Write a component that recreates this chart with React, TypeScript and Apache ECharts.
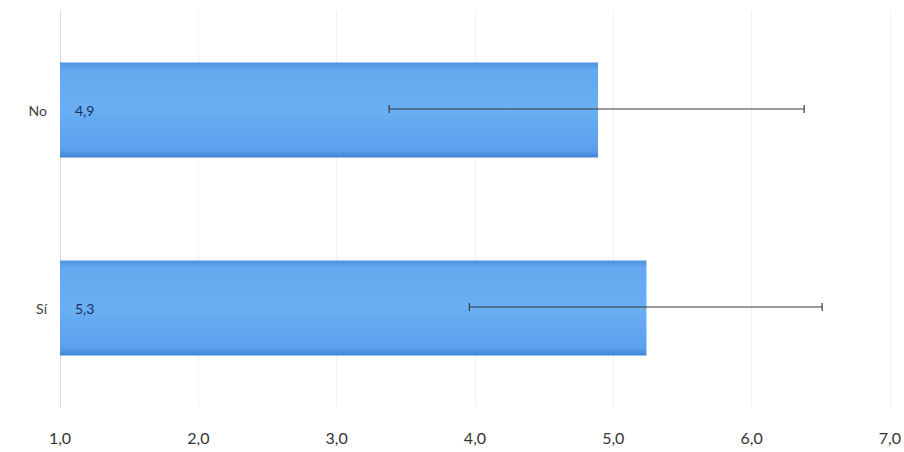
import React, { useEffect, useRef } from "react";
import * as echarts from "echarts";

const categories = ["Sí", "No"];
const barValues = [5.24, 4.89];
const barLabels = ["5,3", "4,9"];
const errLow = [3.96, 3.38];
const errHigh = [6.51, 6.38];
const xTicks = ["1,0", "2,0", "3,0", "4,0", "5,0", "6,0", "7,0"];

export default function App() {
  const ref = useRef<HTMLDivElement>(null);
  useEffect(() => {
    const chart = echarts.init(ref.current!, null, { renderer: "svg" });
    const font = "Lato, 'Open Sans', sans-serif";
    chart.setOption({
      animation: false,
      backgroundColor: "#ffffff",
      grid: { left: 60, right: 14, top: 11, bottom: 45, containLabel: false },
      xAxis: {
        type: "value",
        min: 1,
        max: 7,
        interval: 1,
        axisLine: { show: false },
        axisTick: { show: false },
        splitLine: { show: true, lineStyle: { color: "#f0f0f0", width: 1 } },
        axisLabel: {
          margin: 22,
          fontFamily: font,
          fontSize: 16,
          color: "#333",
          formatter: (v: number) => xTicks[Math.round(v) - 1] ?? "",
        },
      },
      yAxis: {
        type: "category",
        data: categories,
        axisLine: { show: true, lineStyle: { color: "#d9d9d9", width: 1 } },
        axisTick: { show: false },
        axisLabel: { margin: 13, fontFamily: font, fontSize: 14, color: "#404040" },
      },
      series: [
        {
          type: "bar",
          data: barValues,
          barWidth: "48%",
          itemStyle: {
            color: new echarts.graphic.LinearGradient(0, 0, 0, 1, [
              { offset: 0, color: "#4d92e2" },
              { offset: 0.08, color: "#64a8ef" },
              { offset: 0.5, color: "#6aaef3" },
              { offset: 0.92, color: "#5aa0ec" },
              { offset: 1, color: "#3f84d6" },
            ]),
          },
          label: {
            show: true,
            position: "insideLeft",
            distance: 15,
            fontFamily: font,
            fontSize: 14,
            color: "#1a3060",
            formatter: (p: any) => barLabels[p.dataIndex],
          },
          z: 2,
        },
        {
          type: "custom",
          data: categories.map((_, i) => [errLow[i], errHigh[i], i]),
          encode: { x: [0, 1], y: 2 },
          z: 5,
          renderItem: (params: any, api: any) => {
            const lo = api.coord([api.value(0), api.value(2)]);
            const hi = api.coord([api.value(1), api.value(2)]);
            const y = lo[1] - 1;
            const cap = 4;
            const style = { stroke: "#3a3a3a", lineWidth: 1.2 };
            return {
              type: "group",
              children: [
                { type: "line", shape: { x1: lo[0], y1: y, x2: hi[0], y2: y }, style },
                { type: "line", shape: { x1: lo[0], y1: y - cap, x2: lo[0], y2: y + cap }, style },
                { type: "line", shape: { x1: hi[0], y1: y - cap, x2: hi[0], y2: y + cap }, style },
              ],
            };
          },
        },
      ],
    });
    return () => chart.dispose();
  }, []);
  return <div ref={ref} style={{ width: 904, height: 452, position: "absolute", left: 0, top: 0 }} />;
}
